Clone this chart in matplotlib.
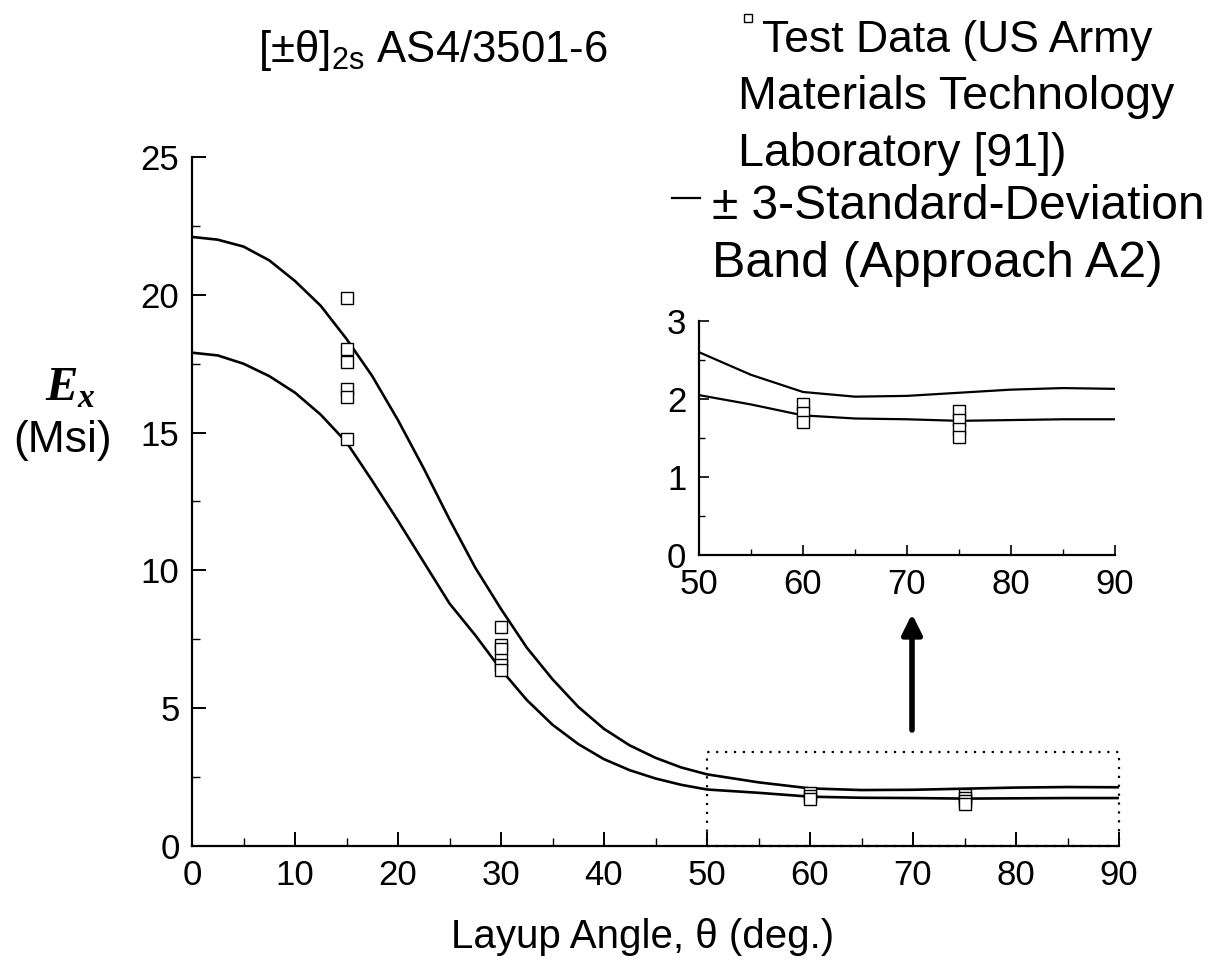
import matplotlib
matplotlib.use('Agg')
import matplotlib.pyplot as plt
from matplotlib.ticker import MultipleLocator
from matplotlib.patches import Rectangle, FancyArrowPatch
from matplotlib.lines import Line2D

W, H = 1222, 963
plt.rcParams['font.family'] = ['Liberation Sans', 'DejaVu Sans']
plt.rcParams['mathtext.fontset'] = 'custom'
plt.rcParams['mathtext.rm'] = 'Liberation Sans'
plt.rcParams['mathtext.it'] = 'Liberation Sans:italic'

# ---------------- data ----------------
band_angle = [0, 2.5, 5, 7.5, 10, 12.5, 15, 17.5, 20, 22.5, 25, 27.5, 30, 32.5,
              35, 37.5, 40, 42.5, 45, 47.5, 50, 55, 60, 65, 70, 75, 80, 85, 90]
band_upper = [22.1, 22.0, 21.75, 21.25, 20.5, 19.6, 18.4, 17.05, 15.45, 13.7,
              11.85, 10.1, 8.6, 7.2, 6.05, 5.05, 4.25, 3.65, 3.2, 2.85, 2.6, 2.31,
              2.09, 2.03, 2.04, 2.08, 2.12, 2.14, 2.13]
band_lower = [17.9, 17.8, 17.5, 17.05, 16.45, 15.65, 14.65, 13.25, 11.8, 10.3,
              8.8, 7.65, 6.4, 5.3, 4.4, 3.7, 3.15, 2.75, 2.45, 2.22, 2.05, 1.93,
              1.79, 1.75, 1.74, 1.72, 1.73, 1.74, 1.74]
test_angle = [15, 15, 15, 15, 15, 15, 30, 30, 30, 30, 30, 30, 60, 60, 60, 75, 75, 75, 75]
test_ex = [19.9, 18.05, 17.55, 16.6, 16.3, 14.75,
           7.95, 7.3, 7.15, 6.75, 6.55, 6.4,
           1.93, 1.82, 1.71,
           1.84, 1.73, 1.62, 1.51]

main_xticks = [0, 10, 20, 30, 40, 50, 60, 70, 80, 90]
main_yticks = [0, 5, 10, 15, 20, 25]
inset_xticks = [50, 60, 70, 80, 90]
inset_yticks = [0, 1, 2, 3]
zoom_box = (50, 0, 40, 3.4)  # x0, y0, width, height in data units

# ---------------- figure ----------------
fig = plt.figure(figsize=(W / 100, H / 100), dpi=100)


def fx(x):
    return x / W


def fy(y):
    return 1 - y / H


ax = fig.add_axes([fx(192), fy(846), (1119 - 192) / W, (846 - 157) / H])
ax.plot(band_angle, band_upper, color='black', lw=1.9)
ax.plot(band_angle, band_lower, color='black', lw=1.9)
ax.plot(test_angle, test_ex, ls='none', marker='s', ms=8, mfc='white',
        mec='black', mew=1.0)
ax.set_xlim(0, 90)
ax.set_ylim(0, 25)
ax.set_xticks(main_xticks)
ax.set_yticks(main_yticks)
ax.xaxis.set_minor_locator(MultipleLocator(5))
ax.yaxis.set_minor_locator(MultipleLocator(2.5))
for s in ['top', 'right']:
    ax.spines[s].set_visible(False)
for s in ['left', 'bottom']:
    ax.spines[s].set_linewidth(1.6)
ax.tick_params(which='major', direction='in', length=10, width=1.4,
               labelsize=25, pad=9)
ax.tick_params(which='minor', direction='in', length=6, width=1.0)
ax.patch.set_alpha(0)
ax.add_patch(Rectangle(zoom_box[:2], zoom_box[2], zoom_box[3], fill=False,
                       ls=(0, (1, 3)), lw=1.6, color='black', clip_on=False))

# inset
ax2 = fig.add_axes([fx(699), fy(555), (1115 - 699) / W, (555 - 321) / H])
ax2.plot(band_angle, band_upper, color='black', lw=1.6)
ax2.plot(band_angle, band_lower, color='black', lw=1.6)
ax2.plot(test_angle, test_ex, ls='none', marker='s', ms=8, mfc='white',
         mec='black', mew=1.0)
ax2.set_xlim(50, 90)
ax2.set_ylim(0, 3)
ax2.set_xticks(inset_xticks)
ax2.set_yticks(inset_yticks)
ax2.xaxis.set_minor_locator(MultipleLocator(5))
ax2.yaxis.set_minor_locator(MultipleLocator(0.5))
for s in ['top', 'right']:
    ax2.spines[s].set_visible(False)
for s in ['left', 'bottom']:
    ax2.spines[s].set_linewidth(1.6)
ax2.tick_params(which='major', direction='in', length=7, width=1.2,
                labelsize=25, pad=9)
ax2.tick_params(which='minor', direction='in', length=4, width=1.0)

# arrow
fig.add_artist(FancyArrowPatch(
    (fx(912), fy(730)), (fx(912), fy(614)), transform=fig.transFigure,
    arrowstyle='-|>,head_length=0.6,head_width=0.3', mutation_scale=20,
    lw=4, color='black', shrinkA=0, shrinkB=0))

# labels
fig.text(fx(643), fy(948), 'Layup Angle, θ (deg.)', ha='center',
         va='baseline', fontsize=29)
fig.text(fx(45), fy(400), 'E', ha='left', va='baseline', fontsize=35,
         family='Liberation Serif', style='italic', weight='bold')
fig.text(fx(77), fy(407), 'x', ha='left', va='baseline', fontsize=24,
         family='Liberation Serif', style='italic', weight='bold')
fig.text(fx(63), fy(452), '(Msi)', ha='center', va='baseline', fontsize=32)

# title
fig.text(fx(258), fy(62), r'[±θ]$_{\mathrm{2s}}$ AS4/3501-6', ha='left',
         va='baseline', fontsize=31.5)

# legend
fig.add_artist(Line2D([fx(748)], [fy(18)], marker='s', ms=5.5, mfc='white',
                      mec='black', mew=1.0, ls='none',
                      transform=fig.transFigure))
fig.text(fx(762), fy(52), 'Test Data (US Army', ha='left', va='baseline',
         fontsize=32)
fig.text(fx(738), fy(109), 'Materials Technology', ha='left', va='baseline',
         fontsize=33.5)
fig.text(fx(738), fy(166), 'Laboratory [91])', ha='left', va='baseline',
         fontsize=33.5)
fig.add_artist(Line2D([fx(672), fx(700)], [fy(198), fy(198)], color='black',
                      lw=1.6, transform=fig.transFigure))
fig.text(fx(712), fy(219), '± 3-Standard-Deviation', ha='left',
         va='baseline', fontsize=34.5)
fig.text(fx(712), fy(277), 'Band (Approach A2)', ha='left', va='baseline',
         fontsize=36)

fig.savefig('out.png', dpi=100)
